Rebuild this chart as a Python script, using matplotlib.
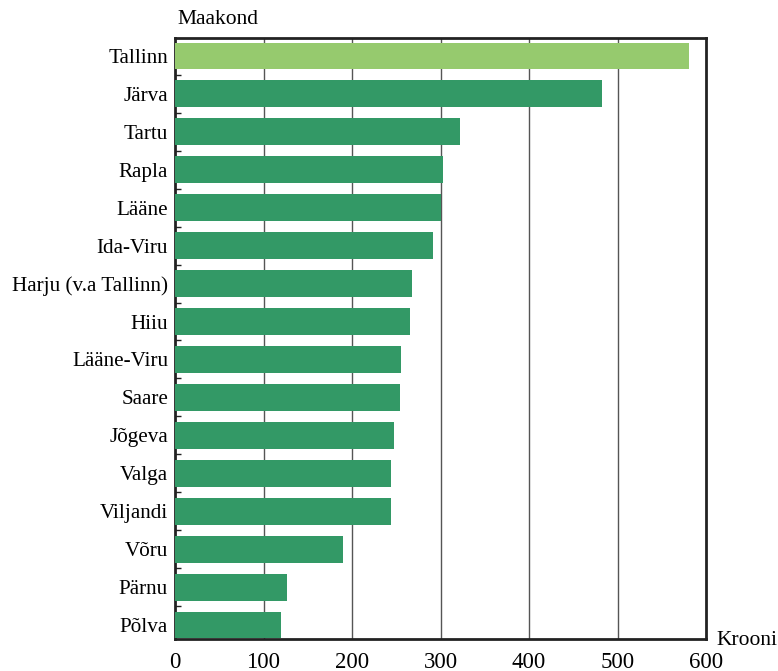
import numpy as np
import matplotlib
matplotlib.use("Agg")
import matplotlib.pyplot as plt

plt.rcParams["font.family"] = ["Liberation Serif", "DejaVu Serif"]

counties = ["Tallinn", "Järva", "Tartu", "Rapla", "Lääne", "Ida-Viru",
            "Harju (v.a Tallinn)", "Hiiu", "Lääne-Viru", "Saare", "Jõgeva",
            "Valga", "Viljandi", "Võru", "Pärnu", "Põlva"]
values = [581, 482, 322, 303, 301, 291, 268, 266, 255, 254, 248,
          244, 244, 190, 126, 120]
x_ticks = [0, 100, 200, 300, 400, 500, 600]

fig = plt.figure(figsize=(7.78, 6.71), dpi=100)
ax = fig.add_axes([175 / 778, 1 - 639 / 671, 531 / 778, 601 / 671])

y = np.arange(len(counties))
colors = ["#96ca6e"] + ["#339966"] * (len(counties) - 1)
ax.barh(y, values, height=0.71, color=colors, zorder=3)

ax.set_xlim(0, 600)
ax.set_ylim(len(counties) - 1 + 0.37, -0.475)
ax.set_xticks(x_ticks)
ax.set_xticklabels([str(t) for t in x_ticks], fontsize=16.5)
ax.tick_params(axis="x", length=0, pad=9)

ax.set_yticks(y)
ax.set_yticklabels(counties, fontsize=15.2)
ax.tick_params(axis="y", which="major", length=0, pad=5)
ax.set_yticks(y[:-1] + 0.5, minor=True)
ax.tick_params(axis="y", which="minor", direction="in", length=4, width=1, color="#222222")

for t in x_ticks[1:-1]:
    ax.axvline(t, color="#555555", lw=1, zorder=1)

for s in ax.spines.values():
    s.set_linewidth(2)
    s.set_color("#222222")

ax.text(0.005, 1.03, "Maakond", transform=ax.transAxes, fontsize=15.5,
        ha="left", va="center")
ax.text(1.02, -0.003, "Krooni", transform=ax.transAxes, fontsize=15.5,
        ha="left", va="center")

fig.savefig("out.png", dpi=100)
